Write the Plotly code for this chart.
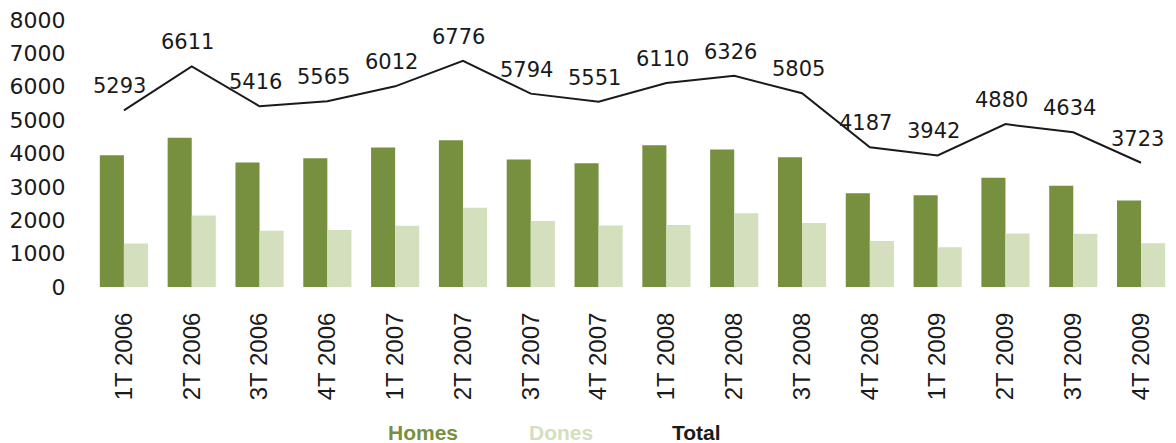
import plotly.graph_objects as go

categories = ["1T 2006", "2T 2006", "3T 2006", "4T 2006",
              "1T 2007", "2T 2007", "3T 2007", "4T 2007",
              "1T 2008", "2T 2008", "3T 2008", "4T 2008",
              "1T 2009", "2T 2009", "3T 2009", "4T 2009"]
homes = [3950, 4470, 3730, 3860, 4180, 4400, 3820, 3710,
         4250, 4120, 3890, 2810, 2750, 3275, 3035, 2590]
dones = [1306, 2141, 1686, 1705, 1832, 2376, 1974, 1841,
         1860, 2206, 1915, 1377, 1192, 1605, 1599, 1310]
total = [5293, 6611, 5416, 5565, 6012, 6776, 5794, 5551,
         6110, 6326, 5805, 4187, 3942, 4880, 4634, 3723]

homes_color = "#77903F"
dones_color = "#D3DFBD"
total_color = "#1A1A1A"
num_font = "Verdana, DejaVu Sans, sans-serif"
cat_font = "Arial, Liberation Sans, sans-serif"

fig = go.Figure()
fig.add_bar(x=categories, y=homes, name="Homes", marker_color=homes_color,
            marker_line_width=0)
fig.add_bar(x=categories, y=dones, name="Dones", marker_color=dones_color,
            marker_line_width=0)
fig.add_scatter(x=categories, y=total, name="Total", mode="lines",
                line=dict(color=total_color, width=2))

annotations = []
for c, t in zip(categories, total):
    annotations.append(dict(x=c, y=t, xref="x", yref="y", text=str(t),
                            showarrow=False, yshift=24, xshift=-4,
                            font=dict(family=num_font, size=21, color=total_color)))

legend_items = [("Homes", homes_color, 0.307), ("Dones", dones_color, 0.434),
                ("Total", total_color, 0.559)]
for name, col, xp in legend_items:
    annotations.append(dict(x=xp, y=-0.545, xref="paper", yref="paper", text="<b>%s</b>" % name,
                            showarrow=False, xanchor="center", yanchor="middle",
                            font=dict(family=cat_font, size=21, color=col)))

fig.update_layout(
    width=1168, height=435,
    margin=dict(l=82, r=1, t=12, b=156),
    paper_bgcolor="white", plot_bgcolor="white",
    barmode="group", bargap=0.29, bargroupgap=0,
    showlegend=False,
    annotations=annotations,
    xaxis=dict(type="category", tickangle=-90, showgrid=False, zeroline=False,
               showline=False, ticks="outside", ticklen=0, ticklabelstandoff=15,
               tickfont=dict(family=cat_font, size=24, color="#1A1A1A")),
    yaxis=dict(range=[0, 8000], dtick=1000, showgrid=False, zeroline=False,
               showline=False, ticks="outside", ticklen=0, ticklabelstandoff=19,
               ticklabeloverflow="allow",
               tickfont=dict(family=num_font, size=22, color="#1A1A1A")),
)

fig.write_html("out.html")
